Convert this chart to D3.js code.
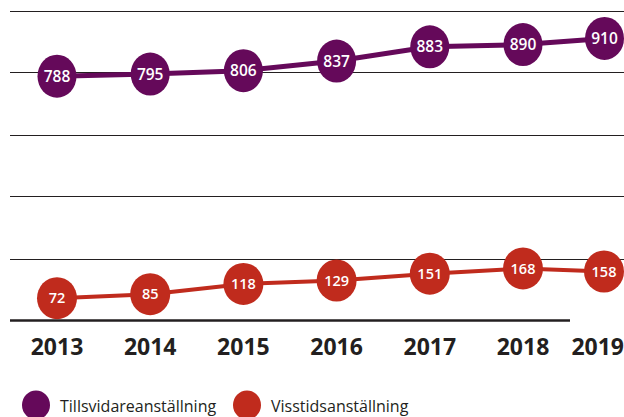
<!DOCTYPE html>
<html>
<head>
<meta charset="utf-8">
<script src="https://cdn.jsdelivr.net/npm/d3@7"></script>
<style>
  html, body { margin: 0; padding: 0; background: #fff; }
  svg { display: block; font-family: "Open Sans", sans-serif; }
</style>
</head>
<body>
<div id="chart"></div>
<script>
var years      = [2013, 2014, 2015, 2016, 2017, 2018, 2019];
var tillsvidare = [788, 795, 806, 837, 883, 890, 910];
var visstid     = [72, 85, 118, 129, 151, 168, 158];
var gridValues  = [200, 400, 600, 800, 1000];
var seriesNames = ["Tillsvidareanställning", "Visstidsanställning"];
var seriesColors = ["#65095a", "#c02b1d"];

var W = 624, H = 417;

var svg = d3.select("#chart").append("svg")
    .attr("width", W)
    .attr("height", H);

var x = d3.scaleLinear().domain([2013, 2018]).range([57, 523]),
    y = d3.scaleLinear().domain([0, 1000]).range([320.5, 10.5]);

// keep marks inside the frame (the last year sits against the right edge)
function xPos(d, half) { return Math.min(x(d), W - half); }

/* grid lines */
svg.selectAll(".grid")
  .data(gridValues)
  .enter().append("line")
    .attr("class", "grid")
    .attr("x1", 10).attr("x2", W)
    .attr("y1", function(d){ return Math.round(y(d)) + 0.5; })
    .attr("y2", function(d){ return Math.round(y(d)) + 0.5; })
    .style("stroke", "#231f20")
    .style("stroke-width", 1);

/* base line */
svg.append("line")
  .attr("x1", 10).attr("x2", 570)
  .attr("y1", y(0)).attr("y2", y(0))
  .style("stroke", "#231f20")
  .style("stroke-width", 2.5);

/* year labels */
svg.selectAll(".year")
  .data(years)
  .enter().append("text")
    .attr("class", "year")
    .attr("y", 355)
    .attr("text-anchor", "middle")
    .style("font-size", "23px")
    .style("font-weight", 700)
    .style("fill", "#231f20")
    .text(function(d){ return d; })
    .attr("x", function(d){
      var half = this.getComputedTextLength() / 2;
      return xPos(d, half);
    });

function drawSeries(values, color, lineW, rx, ry, fs) {
  var pts = years.map(function(yr, i){ return { year: yr, value: values[i] }; });
  var line = d3.line()
      .x(function(d){ return xPos(d.year, rx); })
      .y(function(d){ return y(d.value); });

  svg.append("path")
    .datum(pts)
    .attr("d", line)
    .style("fill", "none")
    .style("stroke", color)
    .style("stroke-width", lineW);

  var g = svg.append("g");
  g.selectAll("ellipse")
    .data(pts)
    .enter().append("ellipse")
      .attr("cx", function(d){ return xPos(d.year, rx); })
      .attr("cy", function(d){ return y(d.value); })
      .attr("rx", rx)
      .attr("ry", ry)
      .style("fill", color);

  g.selectAll("text")
    .data(pts)
    .enter().append("text")
      .attr("x", function(d){ return xPos(d.year, rx); })
      .attr("y", function(d){ return y(d.value); })
      .attr("dy", "0.36em")
      .attr("text-anchor", "middle")
      .style("font-size", fs + "px")
      .style("font-weight", 600)
      .style("fill", "#fff")
      .text(function(d){ return d.value; });
}

drawSeries(tillsvidare, seriesColors[0], 5, 19.5, 21.5, 15.5);
drawSeries(visstid, seriesColors[1], 4, 20, 21, 14.5);

/* legend */
var legendX = [36, 247];
var legend = svg.selectAll(".legend")
  .data(seriesNames)
  .enter().append("g")
    .attr("class", "legend")
    .attr("transform", function(d, i){ return "translate(" + legendX[i] + ",405)"; });

legend.append("ellipse")
  .attr("rx", 14).attr("ry", 14.5)
  .style("fill", function(d, i){ return seriesColors[i]; });

legend.append("text")
  .attr("x", 24)
  .attr("y", 7)
  .style("font-size", "16px")
  .style("fill", "#231f20")
  .text(function(d){ return d; });
</script>
</body>
</html>
